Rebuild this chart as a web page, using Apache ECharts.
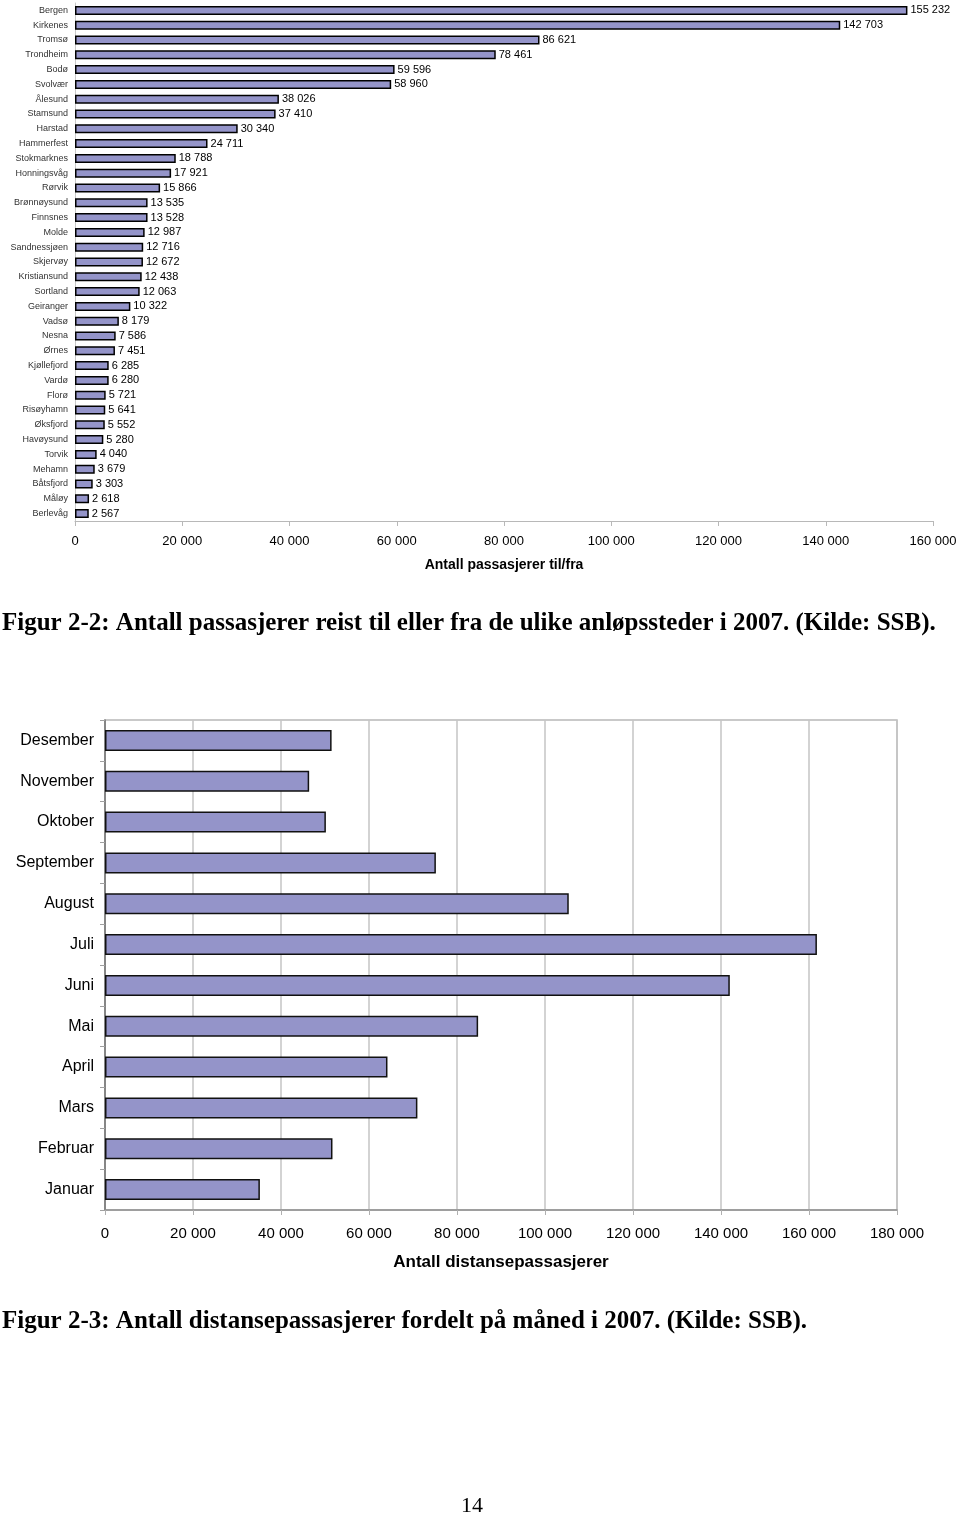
<!DOCTYPE html>
<html><head><meta charset="utf-8">
<script src="https://cdn.jsdelivr.net/npm/echarts@6/dist/echarts.min.js"></script>
<style>html,body{margin:0;padding:0;background:#fff}#c{width:960px;height:1517px}</style>
</head><body><div id="c"></div>
<script>
const ports = ["Bergen","Kirkenes","Tromsø","Trondheim","Bodø","Svolvær","Ålesund","Stamsund","Harstad","Hammerfest","Stokmarknes","Honningsvåg","Rørvik","Brønnøysund","Finnsnes","Molde","Sandnessjøen","Skjervøy","Kristiansund","Sortland","Geiranger","Vadsø","Nesna","Ørnes","Kjøllefjord","Vardø","Florø","Risøyhamn","Øksfjord","Havøysund","Torvik","Mehamn","Båtsfjord","Måløy","Berlevåg"];
const passengers = [155232,142703,86621,78461,59596,58960,38026,37410,30340,24711,18788,17921,15866,13535,13528,12987,12716,12672,12438,12063,10322,8179,7586,7451,6285,6280,5721,5641,5552,5280,4040,3679,3303,2618,2567];
const months = ["Desember","November","Oktober","September","August","Juli","Juni","Mai","April","Mars","Februar","Januar"];
const distance = [51500,46400,50200,75200,105400,161800,142000,84800,64200,71000,51700,35200];
const axisName1 = "Antall passasjerer til/fra";
const axisName2 = "Antall distansepassasjerer";
const caption1 = "Figur 2-2: Antall passasjerer reist til eller fra de ulike anløpssteder i 2007. (Kilde: SSB).";
const caption2 = "Figur 2-3: Antall distansepassasjerer fordelt på måned i 2007. (Kilde: SSB).";
const pageNo = "14";

const fmt = v => String(v).replace(/\B(?=(\d{3})+(?!\d))/g, " ");
const barColor = "#9494c9";
const chart = echarts.init(document.getElementById('c'), null, {renderer:'canvas'});
chart.setOption({
  animation:false,
  backgroundColor:'#fff',
  textStyle:{fontFamily:'Liberation Sans, Arial, sans-serif'},
  title:[
    {text:caption1,left:2,top:611,padding:0,textStyle:{fontFamily:'Liberation Serif',fontWeight:'bold',fontSize:25,color:'#000'}},
    {text:caption2,left:2,top:1309,padding:0,textStyle:{fontFamily:'Liberation Serif',fontWeight:'bold',fontSize:25,color:'#000'}},
    {text:pageNo,left:461,top:1495,padding:0,textStyle:{fontFamily:'Liberation Serif',fontWeight:'normal',fontSize:22,color:'#000'}}
  ],
  grid:[
    {left:75,top:3,width:858,height:518,show:false},
    {left:105,top:720,width:792,height:490,show:true,borderColor:'#b8b8b8',borderWidth:1.5,backgroundColor:'transparent'}
  ],
  xAxis:[
    {gridIndex:0,type:'value',min:0,max:160000,interval:20000,
     name:axisName1,nameLocation:'middle',nameGap:37,
     nameTextStyle:{fontWeight:'bold',fontSize:14,color:'#000'},
     axisLine:{show:true,lineStyle:{color:'#b8b8b8',width:1}},
     axisTick:{show:true,length:5,lineStyle:{color:'#b8b8b8'}},
     axisLabel:{fontSize:13,color:'#000',margin:14,formatter:fmt},
     splitLine:{show:false}},
    {gridIndex:1,type:'value',min:0,max:180000,interval:20000,
     name:axisName2,nameLocation:'middle',nameGap:44,
     nameTextStyle:{fontWeight:'bold',fontSize:17,color:'#000'},
     axisLine:{show:true,lineStyle:{color:'#909090',width:1.5}},
     axisTick:{show:true,length:5,lineStyle:{color:'#b0b0b0'}},
     axisLabel:{fontSize:15,color:'#000',margin:16,formatter:fmt},
     splitLine:{show:true,lineStyle:{color:'#c4c4c4',width:1.5}}}
  ],
  yAxis:[
    {gridIndex:0,type:'category',data:ports,inverse:true,
     axisLine:{show:true,lineStyle:{color:'#c8c8c8',width:1}},
     axisTick:{show:false},
     axisLabel:{fontSize:9,color:'#333',margin:7,interval:0}},
    {gridIndex:1,type:'category',data:months,inverse:true,
     axisLine:{show:true,lineStyle:{color:'#707070',width:1.5}},
     axisTick:{show:true,length:5,lineStyle:{color:'#a0a0a0'}},
     axisLabel:{fontSize:16,color:'#000',margin:11,interval:0}}
  ],
  series:[
    {type:'bar',xAxisIndex:0,yAxisIndex:0,data:passengers,barWidth:9,
     itemStyle:{color:barColor,borderColor:'#000',borderWidth:1.5},
     label:{show:true,position:'right',distance:3,fontSize:11,color:'#000',formatter:p=>fmt(p.value)}},
    {type:'bar',xAxisIndex:1,yAxisIndex:1,data:distance,barWidth:21,
     itemStyle:{color:barColor,borderColor:'#111',borderWidth:1.5},
     label:{show:false}}
  ]
});
</script></body></html>
